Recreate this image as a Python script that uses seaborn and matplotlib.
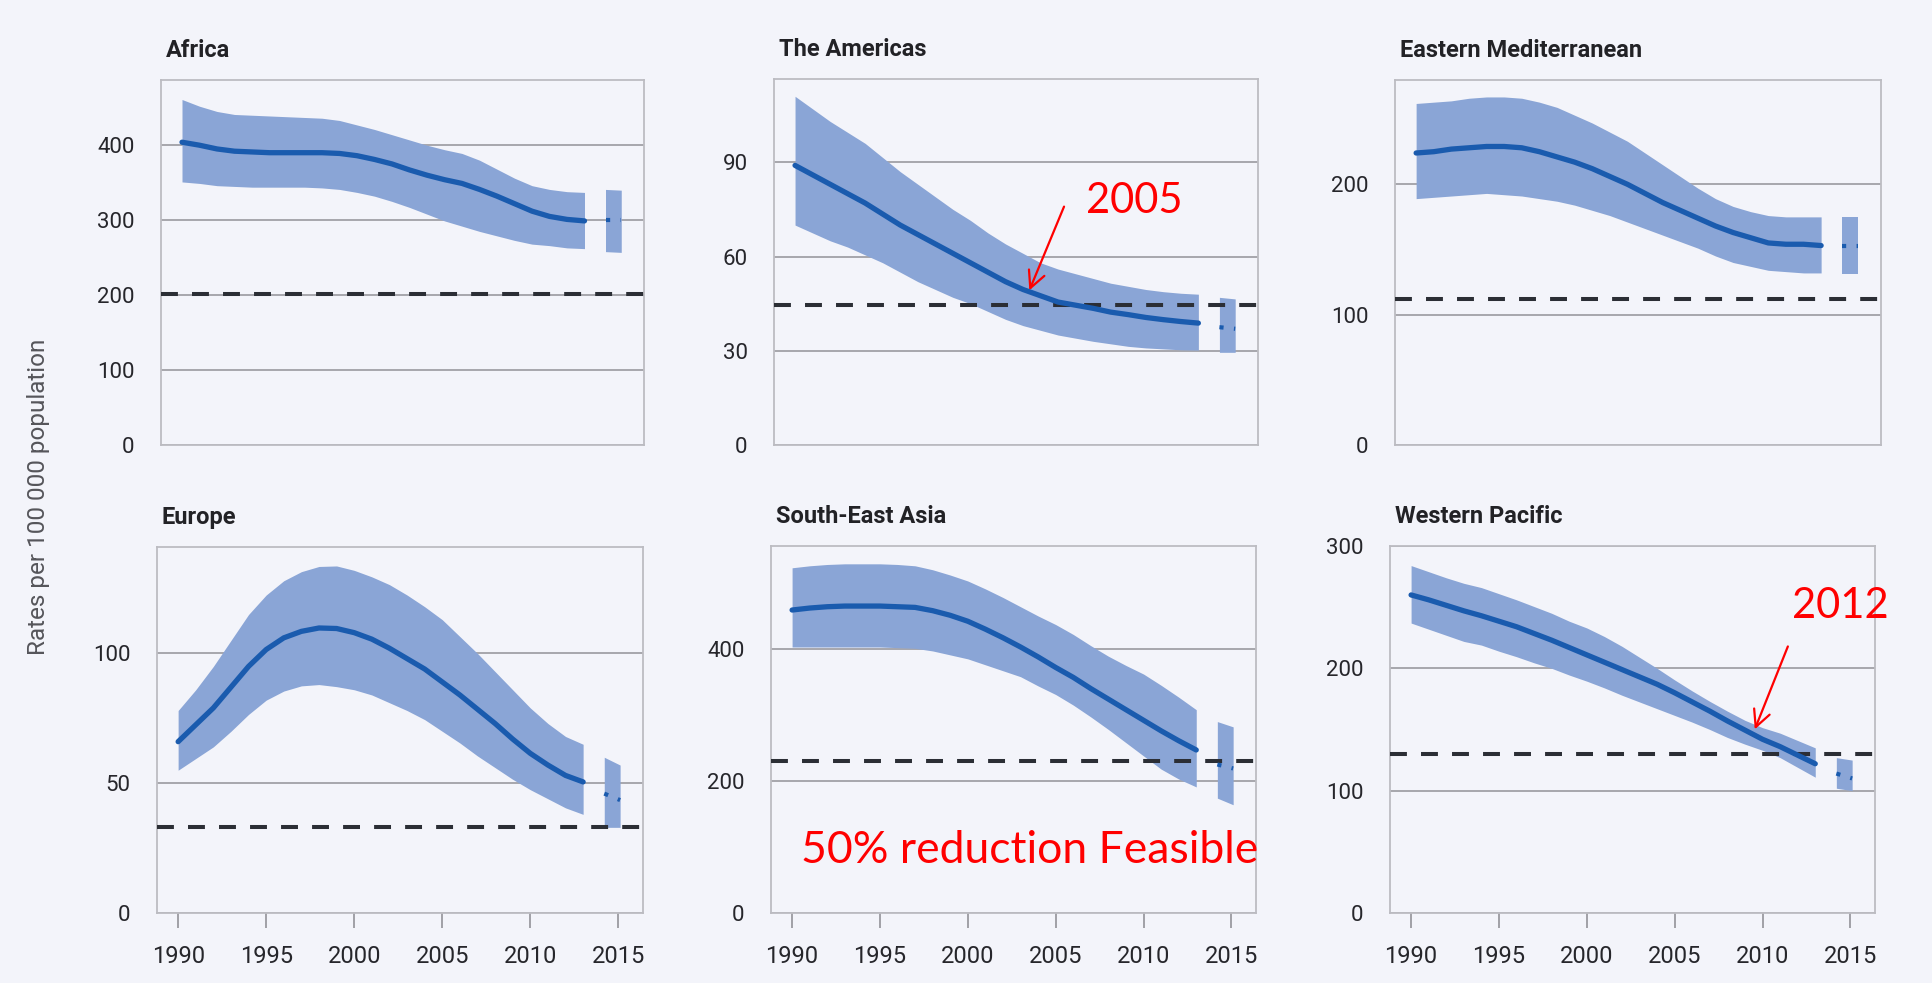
import matplotlib
matplotlib.use("Agg")
import matplotlib.pyplot as plt
import seaborn as sns
from matplotlib import font_manager

# ---------------- data ----------------
years = list(range(1990, 2014))
proj_years = [2014.2, 2015.1]
year_ticks = [1990, 1995, 2000, 2005, 2010, 2015]

regions = ["Africa", "The Americas", "Eastern Mediterranean",
           "Europe", "South-East Asia", "Western Pacific"]

africa_mid = [404, 400, 395, 392, 391, 390, 390, 390, 390, 389, 386, 381, 375, 367,
              360, 354, 349, 341, 332, 322, 312, 305, 301, 299]
africa_hi = [461, 452, 445, 441, 440, 439, 438, 437, 436, 433, 427, 421, 414, 407,
             400, 394, 389, 380, 368, 356, 346, 341, 338, 337]
africa_lo = [351, 349, 346, 345, 344, 344, 344, 344, 343, 341, 337, 332, 325, 317,
             308, 299, 292, 285, 279, 273, 268, 266, 263, 262]
africa_proj_mid = [300, 300]
africa_proj_hi = [341, 340]
africa_proj_lo = [258, 257]
africa_target = 202

americas_mid = [89, 86, 83, 80, 77, 73.5, 70, 67, 64, 61, 58, 55, 52, 49.5,
                47.5, 45.5, 44.5, 43.5, 42.3, 41.5, 40.6, 39.9, 39.3, 38.8]
americas_hi = [111, 107, 103, 99.5, 96, 91.5, 87, 83, 79, 75, 71.5, 67.5, 64, 61,
               58, 56, 54.5, 53, 51.5, 50.5, 49.5, 48.8, 48.3, 48]
americas_lo = [70, 67.5, 65, 63, 60.5, 58, 55, 52, 49.5, 47, 45, 42.5, 40, 38,
               36.5, 35, 34, 33, 32.2, 31.4, 30.9, 30.6, 30.3, 30.2]
americas_proj_mid = [37.5, 37]
americas_proj_hi = [47, 46.5]
americas_proj_lo = [29.5, 29.5]
americas_target = 44.5

emed_mid = [224, 225, 227, 228, 229, 229, 228, 225, 221, 217, 212, 206, 200, 193,
            186, 180, 174, 168, 163, 159, 155, 154, 154, 153]
emed_hi = [262, 263, 264, 266, 267, 267, 266, 263, 259, 253, 247, 240, 233, 224,
           215, 206, 197, 189, 183, 179, 176, 175, 175, 175]
emed_lo = [189, 190, 191, 192, 193, 192, 191, 189, 187, 184, 180, 176, 171, 166,
           161, 156, 151, 145, 140, 137, 134, 133, 132, 132]
emed_proj_mid = [153, 153]
emed_proj_hi = [175, 175]
emed_proj_lo = [131, 131]
emed_target = 112

europe_mid = [66, 72.5, 79, 87, 95, 101.5, 106, 108.5, 109.8, 109.6, 108, 105.5, 102, 98,
              94, 89, 84, 78.5, 73, 67, 61.5, 57, 53, 50.5]
europe_hi = [78, 86, 95, 105, 115, 122.5, 128, 131.5, 133.5, 133.7, 132, 129.5, 126.5, 122.5,
             118, 113, 106.5, 100, 93, 86, 79, 73, 68, 65]
europe_lo = [55, 59.5, 64, 70, 76.5, 82, 85.5, 87.5, 88, 87.2, 86, 84, 81, 78,
             74.5, 70, 65.5, 60.5, 56, 51.5, 47.5, 44, 40.5, 38]
europe_proj_mid = [46, 43.5]
europe_proj_hi = [60, 57]
europe_proj_lo = [33, 33]
europe_target = 33.3

sea_mid = [459, 462, 464, 465, 465, 465, 464, 463, 458, 451, 442, 430, 417, 403,
           388, 372, 357, 340, 324, 308, 292, 276, 261, 247]
sea_hi = [523, 526, 528, 529, 529, 529, 528, 526, 520, 512, 503, 491, 478, 464,
          450, 437, 422, 405, 389, 375, 362, 345, 327, 308]
sea_lo = [403, 403, 403, 403, 403, 403, 402, 401, 397, 391, 385, 376, 367, 358,
          344, 331, 315, 297, 278, 258, 238, 218, 203, 191]
sea_proj_mid = [225, 219]
sea_proj_hi = [290, 282]
sea_proj_lo = [174, 164]
sea_target = 230

wpac_mid = [260, 256, 251.5, 247, 243, 238.5, 234, 228.5, 223, 217, 211, 205, 199, 193,
            187, 180, 172.5, 165, 157, 149.5, 142, 136, 129, 122]
wpac_hi = [284, 279, 274, 269.5, 266, 261, 256, 250.5, 245, 238.5, 233, 226, 218, 209,
           200, 190.5, 181.5, 173, 165, 157.5, 151.5, 147, 141, 135]
wpac_lo = [237, 232, 227, 222, 219, 214, 209.5, 204.5, 200, 194.5, 189.5, 184, 178, 172.5,
           167, 161.5, 156, 150, 143.5, 138, 133, 127, 119, 111]
wpac_proj_mid = [114, 110]
wpac_proj_hi = [127, 125]
wpac_proj_lo = [102, 100]
wpac_target = 130

ytick_sets = [[0, 100, 200, 300, 400], [0, 30, 60, 90], [0, 100, 200],
              [0, 50, 100], [0, 200, 400], [0, 100, 200, 300]]
ylims = [487, 116.5, 280, 141, 556, 300]

ylabel_text = "Rates per 100 000 population"

# ---------------- style ----------------
sns.set_theme(style="white")
avail = {f.name for f in font_manager.fontManager.ttflist}


def pick(*names):
    for n in names:
        if n in avail:
            return n
    return "DejaVu Sans"


COND = pick("Liberation Sans Narrow", "Roboto", "Noto Sans")
RED = pick("Lato", "Open Sans", "Noto Sans")
plt.rcParams["font.family"] = [COND, "DejaVu Sans"]

BG = "#F3F4FA"
BAND = "#8AA5D6"
LINE = "#1A5BAE"
DASH = "#2B2E35"
GRID = "#A0A0A6"
FRAME = "#BCBCC2"
TXT = "#26262B"

W, H = 1933, 983
fig = plt.figure(figsize=(W / 100, H / 100), dpi=100, facecolor=BG)

# pixel boxes (left, top, right, bottom)
boxes = [(161, 80, 644, 445), (774, 79, 1258, 445), (1395, 80, 1881, 445),
         (157, 547, 643, 913), (771, 546, 1256, 913), (1390, 546, 1875, 913)]

data = [
    (africa_mid, africa_hi, africa_lo, africa_proj_mid, africa_proj_hi, africa_proj_lo, africa_target),
    (americas_mid, americas_hi, americas_lo, americas_proj_mid, americas_proj_hi, americas_proj_lo, americas_target),
    (emed_mid, emed_hi, emed_lo, emed_proj_mid, emed_proj_hi, emed_proj_lo, emed_target),
    (europe_mid, europe_hi, europe_lo, europe_proj_mid, europe_proj_hi, europe_proj_lo, europe_target),
    (sea_mid, sea_hi, sea_lo, sea_proj_mid, sea_proj_hi, sea_proj_lo, sea_target),
    (wpac_mid, wpac_hi, wpac_lo, wpac_proj_mid, wpac_proj_hi, wpac_proj_lo, wpac_target),
]

axes = []
for i, (name, box, d) in enumerate(zip(regions, boxes, data)):
    l, t, r, b = box
    ax = fig.add_axes([l / W, 1 - b / H, (r - l) / W, (b - t) / H])
    ax.set_facecolor(BG)
    mid, hi, lo, pmid, phi, plo, target = d

    ax.fill_between(years, lo, hi, color=BAND, lw=0, zorder=2)
    ax.fill_between(proj_years, plo, phi, color=BAND, lw=0, zorder=2)
    ax.axhline(target, color=DASH, lw=2.9, dashes=(4.2, 3.5), zorder=3)
    sns.lineplot(x=years, y=mid, ax=ax, color=LINE, lw=3.8, zorder=4)
    sns.lineplot(x=proj_years, y=pmid, ax=ax, color=LINE, lw=3.0, zorder=4)
    ax.lines[-1].set_linestyle((0, (1, 2.5)))

    ax.set_xlim(1988.8, 2016.4)
    ax.set_ylim(0, ylims[i])
    ax.set_yticks(ytick_sets[i])
    ax.set_yticklabels([str(v) for v in ytick_sets[i]])
    ax.yaxis.grid(True, color=GRID, lw=1.3, zorder=1)
    ax.xaxis.grid(False)
    ax.set_axisbelow(True)
    ax.tick_params(axis="y", length=0, pad=19, labelsize=16, labelcolor=TXT)
    if i >= 3:
        ax.set_xticks(year_ticks)
        ax.set_xticklabels([str(y) for y in year_ticks])
        ax.tick_params(axis="x", bottom=True, length=11, width=1.4, color="#A0A0A6",
                       direction="out", pad=12, labelsize=17, labelcolor=TXT)
    else:
        ax.set_xticks([])
    for s in ax.spines.values():
        s.set_color(FRAME)
        s.set_linewidth(1.3)
    ax.set_xlabel("")
    ax.set_ylabel("")
    ax.text(5 / (r - l), 1 + 23 / (b - t), name, transform=ax.transAxes,
            ha="left", va="baseline", fontsize=17, fontweight="bold", color="#222226")
    axes.append(ax)

fig.text(39 / W, 1 - 497 / H, ylabel_text, rotation=90, ha="center", va="center",
         fontsize=17.5, color="#55555A")

# red annotations
ax_am = axes[1]
ax_am.annotate("", xy=(2003.3, 48.4), xytext=(2005.4, 76.7),
               arrowprops=dict(arrowstyle="->", color="red", lw=1.6, mutation_scale=30))
ax_am.text(2006.6, 73.8, "2005", color="red", fontsize=30, family=[RED, "DejaVu Sans"],
           ha="left", va="baseline")

ax_wp = axes[5]
ax_wp.annotate("", xy=(2009.5, 148), xytext=(2011.5, 220),
               arrowprops=dict(arrowstyle="->", color="red", lw=1.6, mutation_scale=30))
ax_wp.text(2011.7, 241, "2012", color="red", fontsize=30, family=[RED, "DejaVu Sans"],
           ha="left", va="baseline")

ax_sea = axes[4]
ax_sea.text(1990.5, 76, "50% reduction Feasible", color="red", fontsize=32,
            family=[RED, "DejaVu Sans"], ha="left", va="baseline")

fig.savefig("out.png", dpi=100, facecolor=BG)
